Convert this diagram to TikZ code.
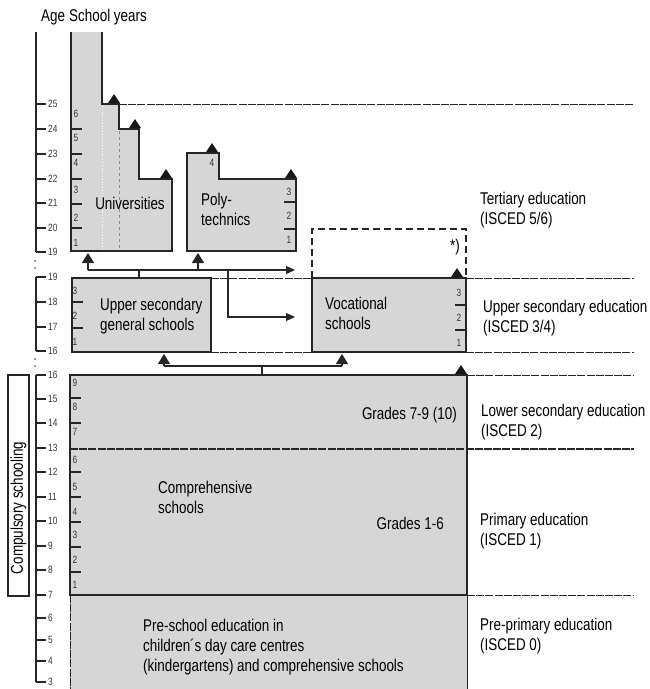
\documentclass[tikz,border=0pt]{standalone}
\usepackage{fontspec}
\setmainfont{Liberation Sans}[FakeStretch=0.79]
\usetikzlibrary{arrows.meta, calc}

\definecolor{boxgray}{gray}{0.84}
\newcommand\lblfont{\fontsize{17}{20}\selectfont}
\newcommand\numfont{\fontsize{10.5}{12}\selectfont}
% small black triangle sitting on a step
\newcommand\steptip[2]{\fill[black!90] (#1,#2) ++(-6,0) -- ++(12,0) -- ++(-6,-9) -- cycle;}

\begin{document}
\begin{tikzpicture}[
    x=1pt, y=-1pt,
    box/.style={fill=boxgray, draw=black!85, line width=1.3pt},
    level/.style={draw=black!85, line width=0.9pt, dash pattern=on 8pt off 1.2pt},
    axis/.style={draw=black!85, line width=1.2pt},
    grade/.style={font=\numfont, inner sep=0pt, text=black!80},
    txt/.style={font=\lblfont, align=left, inner sep=0pt, anchor=west},
    link/.style={draw=black!85, line width=1.2pt},
    uptip/.style={-{Triangle[length=10pt,width=12pt]}},
    righttip/.style={-{Triangle[length=9pt,width=8pt]}}
]
    \useasboundingbox (0,0) rectangle (649,689);

    % --- AGE AXIS ---
    \node[txt] (age) at (41,17) {Age};
    \node[txt] (years) at (69,17) {School years};

    \draw[axis] (36,32) -- (36,252);
    \foreach \a/\y in {25/104,24/129,23/154,22/179,21/203,20/228,19/252} {
        \draw[axis] (36,\y) -- (46,\y);
        \node[grade, anchor=west] at (48,\y) {\a};
    }
    \draw[axis] (36,277) -- (36,351);
    \foreach \a/\y in {19/277,18/302,17/327,16/351} {
        \draw[axis] (36,\y) -- (46,\y);
        \node[grade, anchor=west] at (48,\y) {\a};
    }
    \draw[axis] (36,375) -- (36,682);
    \foreach \a/\y in {16/375,15/399,14/423,13/448,12/472,11/497,10/521,
                       9/546,8/570,7/595,6/618,5/640,4/661,3/682} {
        \draw[axis] (36,\y) -- (46,\y);
        \node[grade, anchor=west] at (48,\y) {\a};
    }
    % breaks in the axis
    \foreach \y in {261,268,359,366}
        \fill[black!80] (35,\y) circle (0.9pt);

    % Compulsory schooling bracket
    \draw[axis] (8,375) rectangle (29,596);
    \node[txt, anchor=center, rotate=90] (comp-s) at (18.5,508) {Compulsory schooling};

    % --- TERTIARY ---
    % Universities
    \draw[box] (102,32) -- (102,104) -- (119,104) -- (119,129) -- (139,129)
        -- (139,179) -- (172,179) -- (172,251) -- (71,251) -- (71,32);
    \draw[white, line width=0.8pt, dotted] (102,106) -- (102,249);
    \draw[black!45, line width=0.7pt, dashed] (119,131) -- (119,249);
    \foreach \y in {129,154,179,204,228}
        \draw[axis] (71,\y) -- (82,\y);
    \foreach \g/\y in {6/114,5/138,4/163,3/190,2/218,1/243}
        \node[grade] at (76,\y) {\g};
    \node[txt, anchor=center] (uni) at (130,203) {Universities};

    % Polytechnics
    \draw[box] (187,153) -- (219,153) -- (219,179) -- (296,179) -- (296,251)
        -- (187,251) -- cycle;
    \foreach \y in {202,229}
        \draw[axis] (296,\y) -- (284,\y);
    \node[grade] (p4) at (212,163) {4};
    \foreach \g/\y in {3/192,2/216,1/240}
        \node[grade] at (289,\y) {\g};
    \node[txt] (poly) at (201,209) {Poly-\\technics};

    % further education (dashed)
    \draw[black!85, line width=1.3pt, dash pattern=on 7pt off 4pt] (312,278) -- (312,229)
        -- (466,229) -- (466,278);
    \node[txt, anchor=center] (star) at (455,247) {*)};

    % --- UPPER SECONDARY ---
    \draw[box] (72,278) rectangle (211,352);
    \foreach \y in {302,328}
        \draw[axis] (72,\y) -- (83,\y);
    \foreach \g/\y in {3/291,2/316,1/342}
        \node[grade] at (75,\y) {\g};
    \node[txt] (gen) at (100,316) {Upper secondary\\general schools};

    \draw[box] (312,278) rectangle (466,352);
    \foreach \y in {305,330}
        \draw[axis] (466,\y) -- (455,\y);
    \foreach \g/\y in {3/293,2/318,1/343}
        \node[grade] at (459,\y) {\g};
    \node[txt] (voc) at (325,313) {Vocational\\schools};

    % --- COMPULSORY ---
    \draw[box] (70,375) rectangle (467,595);
    \foreach \y in {398,423,472,497,522,547,572}
        \draw[axis] (70,\y) -- (81,\y);
    \foreach \g/\y in {9/383,8/407,7/432,6/460,5/487,4/512,3/535,2/560,1/585}
        \node[grade] at (75,\y) {\g};
    \node[txt, anchor=east] (g79) at (457,415) {Grades 7-9 (10)};
    \node[txt, anchor=east] (g16) at (444,523) {Grades 1-6};
    \node[txt] (comp) at (158,497) {Comprehensive\\schools};

    % --- PRE-SCHOOL ---
    \fill[boxgray] (70,595) rectangle (467,689);
    \draw[level] (70,595) -- (70,689);
    \draw[black!85, line width=0.9pt] (467,595) -- (467,689);
    \draw[black!85, line width=1.3pt] (70,595) -- (467,595);
    \node[txt] (pre) at (143,647) {Pre-school education in\\children´s day care centres\\(kindergartens) and comprehensive schools};

    % --- LEVEL LINES ---
    \draw[level] (119,104) -- (634,104);
    \draw[level] (211,278) -- (312,278) (466,278) -- (634,278);
    \draw[level] (211,352) -- (312,352) (466,352) -- (634,352);
    \draw[level] (467,375) -- (634,375);
    \draw[level, line width=1.2pt] (70,449) -- (634,449);
    \draw[level] (467,595) -- (634,595);

    % step triangles
    \steptip{114}{103}
    \steptip{135}{128}
    \steptip{166}{178}
    \steptip{212}{152}
    \steptip{291}{178}
    \steptip{457}{277}
    \steptip{461}{374}

    % --- TRANSITIONS ---
    \coordinate (gtop) at (139,278);
    \coordinate (busL) at (88,270);
    \coordinate (busR) at (295,270);
    \coordinate (split) at (228,270);
    \coordinate (unibot) at (88,253);
    \coordinate (polybot) at (198,253);
    \coordinate (vocin) at (295,317);
    \draw[link] (gtop) -- (gtop |- busL);
    \draw[link, righttip] (busL) -- (busR);
    \draw[link, uptip] (busL) -- (unibot);
    \draw[link, uptip] (polybot |- busL) -- (polybot);
    \draw[link, righttip] (split) |- (vocin);

    \coordinate (ltop) at (262,375);
    \coordinate (lbus) at (262,366);
    \coordinate (genbot) at (164,354);
    \coordinate (vocbot) at (342,354);
    \draw[link] (ltop) -- (lbus);
    \draw[link] (genbot |- lbus) -- (vocbot |- lbus);
    \draw[link, uptip] (genbot |- lbus) -- (genbot);
    \draw[link, uptip] (vocbot |- lbus) -- (vocbot);

    % --- ISCED LEVELS ---
    \node[txt] (isced56) at (480,210) {Tertiary education\\(ISCED 5/6)};
    \node[txt] (isced34) at (483,318) {Upper secondary education\\(ISCED 3/4)};
    \node[txt] (isced2) at (481,422) {Lower secondary education\\(ISCED 2)};
    \node[txt] (isced1) at (480,531) {Primary education\\(ISCED 1)};
    \node[txt] (isced0) at (480,636) {Pre-primary education\\(ISCED 0)};

\end{tikzpicture}
\end{document}
